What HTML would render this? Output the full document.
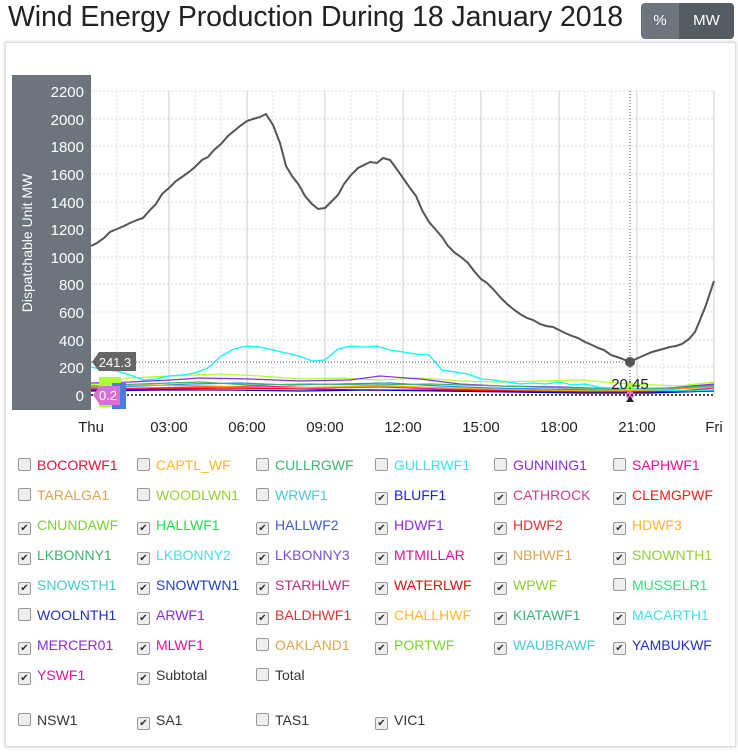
<!DOCTYPE html>
<html><head><meta charset="utf-8"><style>
body{margin:0;width:738px;height:752px;background:#fff;font-family:"Liberation Sans","DejaVu Sans",sans-serif;position:relative;overflow:hidden}
.t{position:absolute;left:8px;top:1px;font-size:28.5px;color:#222;letter-spacing:-0.1px}
.btn{position:absolute;top:3px;height:36px;color:#fff;font-size:15px;line-height:36px;text-align:center}
.card{position:absolute;left:5px;top:42px;width:729px;height:703px;border:1px solid #ddd;box-shadow:0 0 3px #ccc}
.cb{position:absolute;font-size:14px;white-space:nowrap}
.cb i{display:inline-block;width:11px;height:11px;border:1px solid #999;border-radius:2px;background:#eee;vertical-align:-1px;margin-right:6px;font-style:normal;font-size:10px;line-height:11px;text-align:center;color:#333}
</style></head><body>
<div class="t">Wind Energy Production During 18 January 2018</div>
<div class="btn" style="left:641px;width:38px;background:#6c757d;border-radius:4px 0 0 4px">%</div>
<div class="btn" style="left:679px;width:55px;background:#545b62;border-radius:0 4px 4px 0">MW</div>
<div class="card"></div>
<svg style="position:absolute;left:0;top:0" width="738" height="450">
<rect x="12" y="75" width="79" height="335" fill="#6c757d"/>
<g stroke="#ddd" stroke-dasharray="2,2">
<line x1="91" y1="91" x2="714" y2="91"/><line x1="91" y1="119" x2="714" y2="119"/><line x1="91" y1="146" x2="714" y2="146"/><line x1="91" y1="174" x2="714" y2="174"/><line x1="91" y1="202" x2="714" y2="202"/><line x1="91" y1="229" x2="714" y2="229"/><line x1="91" y1="257" x2="714" y2="257"/><line x1="91" y1="284" x2="714" y2="284"/><line x1="91" y1="312" x2="714" y2="312"/><line x1="91" y1="340" x2="714" y2="340"/><line x1="91" y1="367" x2="714" y2="367"/>
<line x1="117" y1="91" x2="117" y2="395"/><line x1="143" y1="91" x2="143" y2="395"/><line x1="195" y1="91" x2="195" y2="395"/><line x1="221" y1="91" x2="221" y2="395"/><line x1="273" y1="91" x2="273" y2="395"/><line x1="299" y1="91" x2="299" y2="395"/><line x1="351" y1="91" x2="351" y2="395"/><line x1="377" y1="91" x2="377" y2="395"/><line x1="429" y1="91" x2="429" y2="395"/><line x1="455" y1="91" x2="455" y2="395"/><line x1="507" y1="91" x2="507" y2="395"/><line x1="533" y1="91" x2="533" y2="395"/><line x1="585" y1="91" x2="585" y2="395"/><line x1="611" y1="91" x2="611" y2="395"/><line x1="663" y1="91" x2="663" y2="395"/><line x1="689" y1="91" x2="689" y2="395"/>
</g>
<g stroke="#ccc"><line x1="169" y1="91" x2="169" y2="395"/><line x1="247" y1="91" x2="247" y2="395"/><line x1="325" y1="91" x2="325" y2="395"/><line x1="403" y1="91" x2="403" y2="395"/><line x1="481" y1="91" x2="481" y2="395"/><line x1="559" y1="91" x2="559" y2="395"/><line x1="637" y1="91" x2="637" y2="395"/><line x1="714" y1="91" x2="714" y2="395"/></g>
<g fill="#fff" font-size="15" text-anchor="end"><text x="84" y="97">2200</text><text x="84" y="125">2000</text><text x="84" y="152">1800</text><text x="84" y="180">1600</text><text x="84" y="208">1400</text><text x="84" y="235">1200</text><text x="84" y="263">1000</text><text x="84" y="290">800</text><text x="84" y="318">600</text><text x="84" y="346">400</text><text x="84" y="373">200</text><text x="84" y="401">0</text></g>
<text transform="translate(32,243) rotate(-90)" fill="#fff" font-size="14" text-anchor="middle">Dispatchable Unit MW</text>
<g fill="#222" font-size="15" text-anchor="middle"><text x="91" y="432">Thu</text><text x="169" y="432">03:00</text><text x="247" y="432">06:00</text><text x="325" y="432">09:00</text><text x="403" y="432">12:00</text><text x="481" y="432">15:00</text><text x="559" y="432">18:00</text><text x="637" y="432">21:00</text><text x="714" y="432">Fri</text></g>
<g fill="none" stroke-width="1.2">
<polyline stroke="#adff2f" points="91,385 130,378 170,376 220,374 260,376 300,379 340,378 380,380 420,378 460,381 500,382 540,381 580,380 630,384 680,386 714,382"/>
<polyline stroke="#8a2be2" points="91,383 130,382 170,380 200,378 250,379 300,381 350,380 380,376 420,379 460,384 500,386 560,387 620,389 670,388 714,384"/>
<polyline stroke="#1e90ff" points="91,388 140,386 190,384 240,383 290,385 340,384 390,383 440,386 490,388 540,389 600,390 650,391 714,385"/>
<polyline stroke="#ff1493" points="91,389 150,388 200,387 260,386 320,388 380,387 440,389 500,390 560,391 620,392 680,391 714,388"/>
<polyline stroke="#ffa500" points="91,387 150,385 210,386 270,388 330,387 390,386 450,388 520,390 600,391 660,390 714,387"/>
<polyline stroke="#3cb371" points="91,386 140,384 200,382 250,385 310,384 370,385 430,384 500,386 570,388 640,389 714,386"/>
<polyline stroke="#ff0000" points="91,390 160,389 230,388 300,389 370,390 440,390 510,391 580,392 650,392 714,390"/>
<polyline stroke="#0000cd" points="91,391 160,390 230,390 300,391 370,390 440,391 510,392 580,393 650,393 714,391"/>
<polyline stroke="#00ffff" stroke-width="1.3" points="91,367 104,370 117,371 130,375 143,380 156,379 169,376 182,375 195,373 208,368 221,356 234,349 247,346 260,347 273,350 286,353 299,356 312,361 325,360 338,349 351,346 364,347 377,346 390,350 403,352 416,354 429,355 442,370 455,372 468,374 481,379 494,380 507,382 520,384 533,383 546,384 559,382 572,385 585,384 598,387 611,388 637,389 663,390 689,391 714,390"/>
<polyline stroke="#555" stroke-width="2" points="91,246 97,243 104,238 110,232 117,229 124,226 130,223 137,220 143,218 150,210 156,204 162,194 169,188 176,181 182,177 189,172 195,167 202,160 208,157 214,150 221,144 228,136 234,131 240,126 247,121 253,119 260,117 266,114 273,125 280,143 286,166 292,176 299,185 305,196 312,204 318,209 325,208 331,202 338,195 344,184 351,175 358,168 364,165 370,162 377,163 383,158 390,160 396,168 403,178 410,188 416,196 422,210 429,222 436,230 442,237 448,246 455,253 461,257 468,263 474,271 481,279 487,283 494,290 500,297 507,304 513,309 520,314 527,318 533,320 540,324 546,326 553,327 559,330 565,333 572,336 578,338 585,342 592,345 598,348 604,350 611,355 620,358 630,362 638,358 645,355 652,352 663,349 670,347 676,346 682,344 689,339 695,332 700,320 706,305 714,281"/>
</g>
<line x1="91" y1="362" x2="630" y2="362" stroke="#555" stroke-dasharray="1,2"/>
<line x1="630" y1="91" x2="630" y2="395" stroke="#555" stroke-dasharray="1,2"/>
<circle cx="630" cy="362" r="5" fill="#555"/>
<circle cx="630" cy="386" r="4" fill="#adff2f"/>
<circle cx="630" cy="395" r="4" fill="#da70d6"/>
<path d="M626,402 L634,402 L630,396 Z" fill="#222"/>
<text x="630" y="389" font-size="15" text-anchor="middle" fill="#222">20:45</text>
<line x1="91" y1="395" x2="714" y2="395" stroke="#444" stroke-width="2" stroke-dasharray="2,2"/>
<path d="M99,352 L136,352 L136,371 L99,371 L92,362 Z" fill="#666"/>
<text x="115" y="367" fill="#fff" font-size="13" text-anchor="middle">241.3</text>
<rect x="99" y="377" width="22" height="30" fill="#adff2f"/>
<rect x="112" y="383" width="14" height="26" fill="#4a7be0"/>
<path d="M100,386 L120,386 L120,405 L100,405 L93,395 Z" fill="#da70d6"/>
<text x="108" y="400" fill="#fff" font-size="13" text-anchor="middle">0.2</text>
</svg>

<div class="cb" style="left:18px;top:457px;color:#dc143c"><i></i>BOCORWF1</div>
<div class="cb" style="left:137px;top:457px;color:#ffb52e"><i></i>CAPTL_WF</div>
<div class="cb" style="left:256px;top:457px;color:#3cb371"><i></i>CULLRGWF</div>
<div class="cb" style="left:375px;top:457px;color:#40e0f0"><i></i>GULLRWF1</div>
<div class="cb" style="left:494px;top:457px;color:#8a2be2"><i></i>GUNNING1</div>
<div class="cb" style="left:613px;top:457px;color:#e0139b"><i></i>SAPHWF1</div>

<div class="cb" style="left:18px;top:487px;color:#daa550"><i></i>TARALGA1</div>
<div class="cb" style="left:137px;top:487px;color:#9acd32"><i></i>WOODLWN1</div>
<div class="cb" style="left:256px;top:487px;color:#48c9d0"><i></i>WRWF1</div>
<div class="cb" style="left:375px;top:487px;color:#1e1ee0"><i>✔</i>BLUFF1</div>
<div class="cb" style="left:494px;top:487px;color:#d03c8c"><i>✔</i>CATHROCK</div>
<div class="cb" style="left:613px;top:487px;color:#ff1a1a"><i>✔</i>CLEMGPWF</div>

<div class="cb" style="left:18px;top:517px;color:#7cd030"><i>✔</i>CNUNDAWF</div>
<div class="cb" style="left:137px;top:517px;color:#1ee050"><i>✔</i>HALLWF1</div>
<div class="cb" style="left:256px;top:517px;color:#3d5fd0"><i>✔</i>HALLWF2</div>
<div class="cb" style="left:375px;top:517px;color:#8a2be2"><i>✔</i>HDWF1</div>
<div class="cb" style="left:494px;top:517px;color:#e03030"><i>✔</i>HDWF2</div>
<div class="cb" style="left:613px;top:517px;color:#ffb52e"><i>✔</i>HDWF3</div>

<div class="cb" style="left:18px;top:547px;color:#3cb371"><i>✔</i>LKBONNY1</div>
<div class="cb" style="left:137px;top:547px;color:#40e0f0"><i>✔</i>LKBONNY2</div>
<div class="cb" style="left:256px;top:547px;color:#7b4fd0"><i>✔</i>LKBONNY3</div>
<div class="cb" style="left:375px;top:547px;color:#e0139b"><i>✔</i>MTMILLAR</div>
<div class="cb" style="left:494px;top:547px;color:#daa550"><i>✔</i>NBHWF1</div>
<div class="cb" style="left:613px;top:547px;color:#8fd030"><i>✔</i>SNOWNTH1</div>

<div class="cb" style="left:18px;top:577px;color:#48c9d0"><i>✔</i>SNOWSTH1</div>
<div class="cb" style="left:137px;top:577px;color:#2040c0"><i>✔</i>SNOWTWN1</div>
<div class="cb" style="left:256px;top:577px;color:#c0307a"><i>✔</i>STARHLWF</div>
<div class="cb" style="left:375px;top:577px;color:#e01010"><i>✔</i>WATERLWF</div>
<div class="cb" style="left:494px;top:577px;color:#8fd030"><i>✔</i>WPWF</div>
<div class="cb" style="left:613px;top:577px;color:#30e080"><i></i>MUSSELR1</div>

<div class="cb" style="left:18px;top:607px;color:#2030d0"><i></i>WOOLNTH1</div>
<div class="cb" style="left:137px;top:607px;color:#8a2be2"><i>✔</i>ARWF1</div>
<div class="cb" style="left:256px;top:607px;color:#e03030"><i>✔</i>BALDHWF1</div>
<div class="cb" style="left:375px;top:607px;color:#ffb52e"><i>✔</i>CHALLHWF</div>
<div class="cb" style="left:494px;top:607px;color:#3cb371"><i>✔</i>KIATAWF1</div>
<div class="cb" style="left:613px;top:607px;color:#40e0f0"><i>✔</i>MACARTH1</div>

<div class="cb" style="left:18px;top:637px;color:#8a2be2"><i>✔</i>MERCER01</div>
<div class="cb" style="left:137px;top:637px;color:#e0139b"><i>✔</i>MLWF1</div>
<div class="cb" style="left:256px;top:637px;color:#daa550"><i></i>OAKLAND1</div>
<div class="cb" style="left:375px;top:637px;color:#7cd030"><i>✔</i>PORTWF</div>
<div class="cb" style="left:494px;top:637px;color:#48c9d0"><i>✔</i>WAUBRAWF</div>
<div class="cb" style="left:613px;top:637px;color:#2030d0"><i>✔</i>YAMBUKWF</div>

<div class="cb" style="left:18px;top:667px;color:#e0139b"><i>✔</i>YSWF1</div>
<div class="cb" style="left:137px;top:667px;color:#333"><i>✔</i>Subtotal</div>
<div class="cb" style="left:256px;top:667px;color:#333"><i></i>Total</div>

<div class="cb" style="left:18px;top:712px;color:#333"><i></i>NSW1</div>
<div class="cb" style="left:137px;top:712px;color:#333"><i>✔</i>SA1</div>
<div class="cb" style="left:256px;top:712px;color:#333"><i></i>TAS1</div>
<div class="cb" style="left:375px;top:712px;color:#333"><i>✔</i>VIC1</div>
</body></html>
